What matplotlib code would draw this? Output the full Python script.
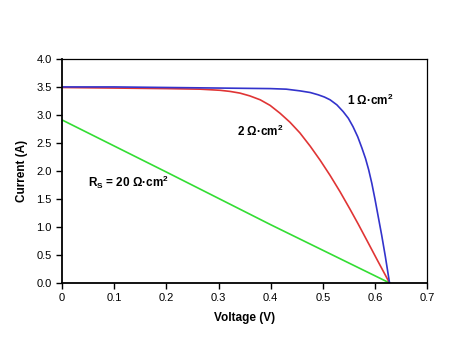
import matplotlib
matplotlib.use('Agg')
import matplotlib.pyplot as plt

plt.rcParams['font.family'] = ['Liberation Sans', 'DejaVu Sans']
plt.rcParams['mathtext.fontset'] = 'custom'
plt.rcParams['mathtext.rm'] = 'Liberation Sans:bold'
plt.rcParams['mathtext.bf'] = 'Liberation Sans:bold'
plt.rcParams['mathtext.default'] = 'bf'

# Rs = 1 ohm.cm2
v_blue = [0.0, 0.1, 0.2, 0.3, 0.4, 0.43, 0.456, 0.476, 0.491, 0.503, 0.514, 0.527, 0.539, 0.549, 0.558,
          0.567, 0.575, 0.582, 0.588, 0.594, 0.600, 0.606, 0.613, 0.620, 0.628]
i_blue = [3.50, 3.50, 3.49, 3.48, 3.47, 3.46, 3.43, 3.40, 3.36, 3.32, 3.27, 3.18, 3.06, 2.94, 2.79,
          2.61, 2.41, 2.22, 2.02, 1.78, 1.50, 1.20, 0.85, 0.47, 0.0]

# Rs = 2 ohm.cm2
v_red = [0.0, 0.1, 0.2, 0.265, 0.303, 0.322, 0.341, 0.360, 0.380, 0.399, 0.418, 0.437, 0.456, 0.476,
         0.495, 0.514, 0.533, 0.552, 0.568, 0.584, 0.605, 0.628]
i_red = [3.49, 3.48, 3.47, 3.46, 3.44, 3.42, 3.39, 3.34, 3.27, 3.17, 3.03, 2.87, 2.68, 2.44,
         2.19, 1.92, 1.63, 1.32, 1.05, 0.77, 0.40, 0.0]

# Rs = 20 ohm.cm2
v_green = [0.0, 0.2, 0.4, 0.628]
i_green = [2.91, 1.98, 1.04, 0.0]

x_ticks = [0, 0.1, 0.2, 0.3, 0.4, 0.5, 0.6, 0.7]
x_labels = ['0', '0.1', '0.2', '0.3', '0.4', '0.5', '0.6', '0.7']
y_ticks = [0.0, 0.5, 1.0, 1.5, 2.0, 2.5, 3.0, 3.5, 4.0]

fig = plt.figure(figsize=(4.74, 3.55), dpi=100)
ax = fig.add_axes([0.131, 0.203, 0.770, 0.631])

ax.plot(v_green, i_green, color='#33dd33', linewidth=1.2)
ax.plot(v_red, i_red, color='#e03535', linewidth=1.2)
ax.plot(v_blue, i_blue, color='#3333cc', linewidth=1.2)

ax.set_xlim(0, 0.7)
ax.set_ylim(0, 4.0)
ax.set_xticks(x_ticks)
ax.set_xticklabels(x_labels)
ax.set_yticks(y_ticks)
ax.set_yticklabels([f'{y:.1f}' for y in y_ticks])
ax.tick_params(axis='both', direction='out', length=4, width=1, labelsize=8)
for side in ['left', 'bottom']:
    ax.spines[side].set_linewidth(1.3)
for side in ['top', 'right']:
    ax.spines[side].set_linewidth(0.9)

ax.set_xlabel('Voltage (V)', fontsize=8.5, fontweight='bold', labelpad=6)
ax.set_ylabel('Current (A)', fontsize=8.5, fontweight='bold', labelpad=6)

ax.text(0.546, 3.26, r'1 Ω·cm$^2$', fontsize=8.5, fontweight='bold', ha='left', va='center')
ax.text(0.335, 2.71, r'2 Ω·cm$^2$', fontsize=8.5, fontweight='bold', ha='left', va='center')
ax.text(0.05, 1.79, r'R$_\mathrm{S}$ = 20 Ω·cm$^2$', fontsize=8.5, fontweight='bold', ha='left', va='center')

plt.savefig('out.png', dpi=100)
